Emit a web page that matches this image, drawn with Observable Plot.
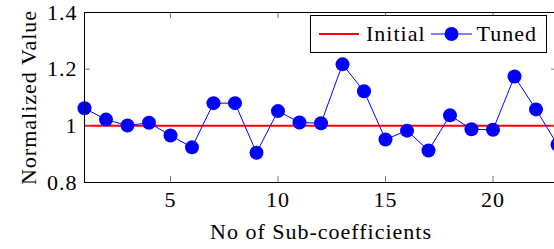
<!DOCTYPE html>
<html>
<head>
<meta charset="utf-8">
<script src="https://cdn.jsdelivr.net/npm/d3@7"></script>
<script src="https://cdn.jsdelivr.net/npm/@observablehq/plot@0.6"></script>
<style>
  html, body { margin: 0; padding: 0; overflow: hidden; background: #fff; }
  #wrap { position: relative; width: 566px; height: 249px; font-family: 'Liberation Serif'; }
  #wrap svg text { font-family: 'Liberation Serif'; letter-spacing: 1px; }
  #legend {
    position: absolute; left: 310px; top: 15px; width: 235px; height: 36px;
    border: 1px solid #000; background: #fff; box-sizing: content-box;
    font-family: 'Liberation Serif'; font-size: 22px; letter-spacing: 1px; color: #000;
    display: flex; align-items: center;
  }
  #legend svg { display: block; }
  #legend span { line-height: 1; }
</style>
</head>
<body>
<div id="wrap">
  <div id="legend">
    <svg width="8" height="10"></svg>
    <svg width="40" height="14"><line x1="0" y1="7" x2="40" y2="7" stroke="#ff0000" stroke-width="2"/></svg>
    <span style="margin-left:7px">Initial</span>
    <svg width="41" height="16" style="margin-left:5px"><line x1="0" y1="8" x2="41" y2="8" stroke="#0000ff" stroke-width="1"/><circle cx="20.5" cy="8" r="7" fill="#0000ff"/></svg>
    <span style="margin-left:5px">Tuned</span>
  </div>
</div>
<script>
const subCoeffs = [1,2,3,4,5,6,7,8,9,10,11,12,13,14,15,16,17,18,19,20,21,22,23];
const tuned = [1.062, 1.022, 1.001, 1.011, 0.966, 0.924, 1.080, 1.080, 0.905, 1.052, 1.012, 1.009,
               1.217, 1.122, 0.952, 0.983, 0.913, 1.037, 0.988, 0.986, 1.174, 1.058, 0.933];
const initialValue = [1];
const xTicks = [5, 10, 15, 20];
const yTicks = [0.8, 1.0, 1.2, 1.4];
const yTickLabels = ["0.8", "1", "1.2", "1.4"];

const W = 566, H = 249, mL = 84, mR = 9, mT = 12, mB = 67;
const xDom = [1, 23], yDom = [0.8, 1.4];
const tickPx = 6;
const xLen = tickPx / (H - mT - mB) * (yDom[1] - yDom[0]);
const yLen = tickPx / (W - mL - mR) * (xDom[1] - xDom[0]);

const data = subCoeffs.map((x, i) => ({x, y: tuned[i]}));

const chart = Plot.plot({
  width: W, height: H,
  marginLeft: mL, marginRight: mR, marginTop: mT, marginBottom: mB,
  style: {fontFamily: "Liberation Serif", fontSize: "22px", color: "#000", background: "#fff"},
  x: {domain: xDom},
  y: {domain: yDom},
  marks: [
    Plot.ruleY(initialValue, {stroke: "#ff0000", strokeWidth: 2}),
    Plot.ruleX(xTicks, {y1: yDom[0], y2: yDom[0] + xLen, stroke: "#777", strokeWidth: 1}),
    Plot.ruleX(xTicks, {y1: yDom[1], y2: yDom[1] - xLen, stroke: "#777", strokeWidth: 1}),
    Plot.ruleY(yTicks.slice(1, 3), {x1: xDom[0], x2: xDom[0] + yLen, stroke: "#777", strokeWidth: 1}),
    Plot.ruleY(yTicks.slice(1, 3), {x1: xDom[1], x2: xDom[1] - yLen, stroke: "#777", strokeWidth: 1}),
    Plot.line(data, {x: "x", y: "y", stroke: "#0000ff", strokeWidth: 1}),
    Plot.dot(data, {x: "x", y: "y", r: 7, fill: "#0000ff", stroke: "none"}),
    Plot.frame({stroke: "#000", strokeWidth: 1}),
    Plot.axisX(xTicks, {tickSize: 0, tickPadding: 9, label: "No of Sub-coefficients", labelAnchor: "center", labelOffset: 56, labelArrow: false, fontSize: 22}),
    Plot.axisY(yTicks, {tickSize: 0, tickPadding: 7, tickFormat: (d) => yTickLabels[yTicks.indexOf(d)], label: "Normalized Value", labelAnchor: "center", labelOffset: 64, labelArrow: false, fontSize: 22})
  ]
});
const wrap = document.getElementById("wrap");
wrap.insertBefore(chart, wrap.firstChild);
</script>
</body>
</html>
